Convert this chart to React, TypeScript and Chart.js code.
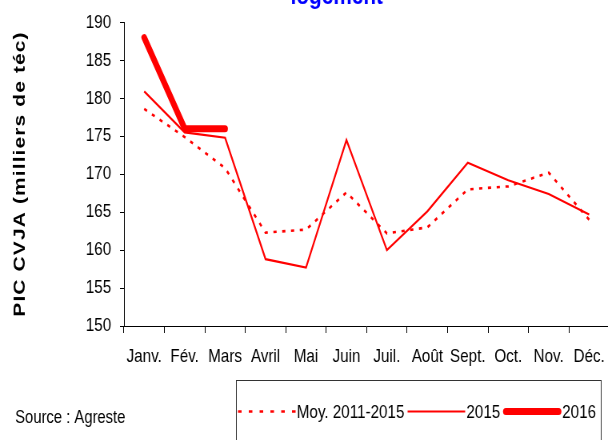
import React, { useEffect, useRef } from "react";
import { Chart, registerables } from "chart.js";

Chart.register(...registerables);

const months = ["Janv.", "Fév.", "Mars", "Avril", "Mai", "Juin", "Juil.", "Août", "Sept.", "Oct.", "Nov.", "Déc."];
const moy20112015 = [178.6, 174.9, 170.8, 162.3, 162.7, 167.6, 162.2, 163.0, 168.0, 168.4, 170.2, 164.0];
const serie2015 = [180.9, 175.5, 174.8, 158.8, 157.7, 174.5, 160.0, 165.1, 171.5, 169.2, 167.4, 164.7];
const serie2016 = [188.0, 176.0, 176.0, null, null, null, null, null, null, null, null, null];
const legendLabels = ["Moy. 2011-2015", "2015", "2016"];
const yTitle = "PIC CVJA (milliers de téc)";
const topTitle = "logement";
const sourceText = "Source : Agreste";

const SX = 0.8;
const W = 768;
const H = 440;
const FONT = "'Liberation Sans', Arial, sans-serif";

const overlay = {
  id: "overlay",
  afterDraw(chart: any) {
    const ctx = chart.ctx;
    ctx.save();
    // partial title at top
    ctx.fillStyle = "#0000FF";
    ctx.font = `bold 26px ${FONT}`;
    ctx.textAlign = "center";
    ctx.textBaseline = "alphabetic";
    ctx.fillText(topTitle, 421, 4);

    // y axis title
    ctx.save();
    ctx.translate(25, 174);
    ctx.rotate(-Math.PI / 2);
    ctx.fillStyle = "#000";
    ctx.font = `bold 21px ${FONT}`;
    try { (ctx as any).letterSpacing = "1.1px"; } catch (e) {}
    ctx.textAlign = "center";
    ctx.textBaseline = "middle";
    ctx.fillText(yTitle, 0, 0);
    ctx.restore();

    // source
    ctx.fillStyle = "#000";
    ctx.font = `18.5px ${FONT}`;
    ctx.textAlign = "left";
    ctx.textBaseline = "alphabetic";
    ctx.fillText(sourceText, 19, 423);

    // legend box
    ctx.strokeStyle = "#333";
    ctx.lineWidth = 1;
    ctx.strokeRect(295.5, 380.5, 456, 80);

    const ly = 411.5;
    let x = 297.5;
    const dsets = chart.data.datasets;
    legendLabels.forEach((lab, i) => {
      const ds = dsets[i];
      ctx.save();
      ctx.strokeStyle = ds.borderColor;
      ctx.lineWidth = ds.borderWidth;
      ctx.lineCap = i === 2 ? "round" : "butt";
      if (i === 0) ctx.setLineDash([4.5, 9]);
      const x0 = i === 2 ? x + 3 : x;
      const x1 = i === 2 ? x + 69 : x + 72;
      ctx.beginPath();
      ctx.moveTo(x0, ly);
      ctx.lineTo(x1, ly);
      ctx.stroke();
      ctx.restore();
      x += 73.5;
      ctx.fillStyle = "#000";
      ctx.font = `19px ${FONT}`;
      ctx.textAlign = "left";
      ctx.textBaseline = "middle";
      ctx.fillText(lab, x, ly + 1);
      x += ctx.measureText(lab).width + 4;
    });
    ctx.restore();
  },
};

export default function App() {
  const ref = useRef<HTMLCanvasElement | null>(null);
  useEffect(() => {
    if (!ref.current) return;
    const chart = new Chart(ref.current, {
      type: "line",
      data: {
        labels: months,
        datasets: [
          {
            label: legendLabels[0],
            data: moy20112015,
            borderColor: "#FF0000",
            borderWidth: 2.6,
            borderDash: [4, 7],
            pointRadius: 0,
            tension: 0,
            order: 2,
          },
          {
            label: legendLabels[1],
            data: serie2015,
            borderColor: "#FF0000",
            borderWidth: 2.2,
            pointRadius: 0,
            tension: 0,
            order: 1,
          },
          {
            label: legendLabels[2],
            data: serie2016,
            borderColor: "#FF0000",
            borderWidth: 7,
            borderCapStyle: "round",
            borderJoinStyle: "round",
            pointRadius: 0,
            tension: 0,
            order: 0,
          },
        ],
      },
      options: {
        animation: false,
        responsive: false,
        maintainAspectRatio: false,
        devicePixelRatio: 1,
        layout: { padding: { top: 20, right: 0, left: 0, bottom: 0 } },
        plugins: { legend: { display: false }, title: { display: false }, tooltip: { enabled: false } },
        scales: {
          x: {
            offset: true,
            afterFit: (s: any) => { s.height = H - 20 - 306; },
            grid: { offset: true, drawOnChartArea: false, tickLength: 7, color: "#000" },
            border: { color: "#000", width: 1 },
            ticks: { color: "#000", font: { family: FONT, size: 19 }, padding: 12, maxRotation: 0, autoSkip: false },
          },
          y: {
            min: 150,
            max: 190,
            afterFit: (s: any) => { s.width = 155; },
            grid: { drawOnChartArea: false, tickLength: 5, color: "#000" },
            border: { color: "#000", width: 1 },
            ticks: { stepSize: 5, color: "#000", font: { family: FONT, size: 19 }, padding: 11 },
          },
        },
      },
      plugins: [overlay],
    });
    return () => chart.destroy();
  }, []);
  return (
    <div style={{ position: "absolute", left: 0, top: 0, width: 608, height: 440, overflow: "hidden", background: "#fff" }}>
      <div style={{ width: W, height: H, transform: `scaleX(${SX})`, transformOrigin: "0 0" }}>
        <canvas ref={ref} width={W} height={H} />
      </div>
    </div>
  );
}
